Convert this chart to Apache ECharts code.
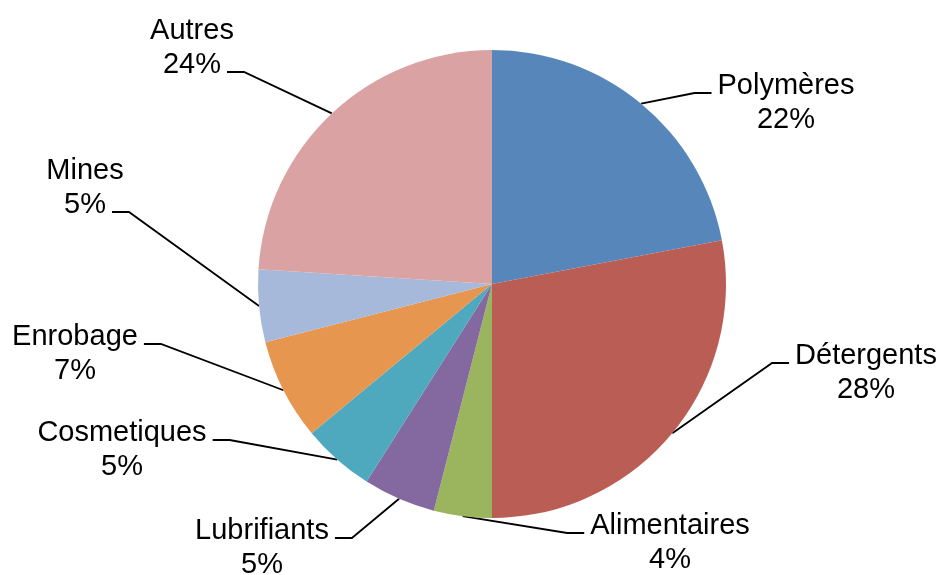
<!DOCTYPE html>
<html>
<head>
<meta charset="utf-8">
<script src="https://cdn.jsdelivr.net/npm/echarts@6/dist/echarts.min.js"></script>
<style>
  html, body { margin: 0; background: #fff; }
  #chart { width: 939px; height: 575px; }
</style>
</head>
<body>
<div id="chart"></div>
<script>
// Slices, clockwise from 12 o'clock
const categories = ['Polymères', 'Détergents', 'Alimentaires', 'Lubrifiants', 'Cosmetiques', 'Enrobage', 'Mines', 'Autres'];
const shares = [22, 28, 4, 5, 5, 7, 5, 24];
const sliceColors = ['#5686BA', '#BA5D55', '#9BB45E', '#8469A0', '#4EA8BE', '#E6964E', '#A6B9DA', '#DAA2A2'];

// Label placement: centre x of the text, centre y of the first line,
// and which of the two lines the leader line joins
const labelX = [786, 866, 670, 262, 122, 75, 85, 192];
const labelY = [86, 356, 526, 531, 433, 337, 171, 31];
const joinLine = [0, 0, 0, 0, 0, 0, 1, 1];

const CX = 492, CY = 284, R = 234;
const FONT_SIZE = 29, LINE_H = 34;
const FONT = FONT_SIZE + 'px "Liberation Sans", Arial, sans-serif';

const ctx = document.createElement('canvas').getContext('2d');
ctx.font = FONT;
const textWidth = (s) => ctx.measureText(s).width;

const chart = echarts.init(document.getElementById('chart'));

const option = {
  animation: false,
  backgroundColor: '#fff',
  series: [
    {
      type: 'pie',
      center: [CX, CY],
      radius: R,
      startAngle: 90,
      clockwise: true,
      avoidLabelOverlap: false,
      silent: true,
      data: categories.map((name, i) => ({
        name,
        value: shares[i],
        itemStyle: { color: sliceColors[i] }
      })),
      label: {
        show: true,
        position: 'outside',
        formatter: (p) => p.name + '\n' + Math.round(p.percent) + '%',
        color: '#000',
        fontFamily: '"Liberation Sans", Arial, sans-serif',
        fontSize: FONT_SIZE,
        lineHeight: LINE_H,
        align: 'center'
      },
      labelLine: {
        show: true,
        smooth: false,
        lineStyle: { color: '#000', width: 1.8 }
      },
      labelLayout: (p) => {
        const i = p.dataIndex;
        const lines = [categories[i], Math.round(shares[i]) + '%'];
        const w = textWidth(lines[joinLine[i]]);
        const onRight = labelX[i] > CX;
        const ly = labelY[i] + joinLine[i] * LINE_H + 7;
        const ex = onRight ? labelX[i] - w / 2 - 6 : labelX[i] + w / 2 + 6;
        const kx = onRight ? ex - 17 : ex + 17;
        return {
          x: labelX[i],
          y: labelY[i] - LINE_H / 2,
          align: 'center',
          verticalAlign: 'top',
          labelLinePoints: [p.labelLinePoints[0], [kx, ly], [ex, ly]]
        };
      }
    }
  ]
};

chart.setOption(option);
</script>
</body>
</html>
